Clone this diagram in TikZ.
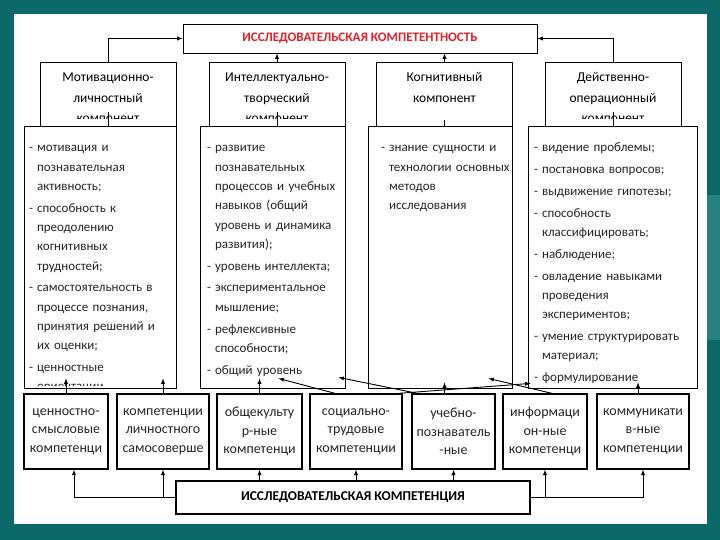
\documentclass[tikz,border=0pt]{standalone}
\usepackage{fontspec}
\setmainfont{Carlito}
\usetikzlibrary{arrows, calc}

\definecolor{slidebg}{RGB}{11,104,104}
\definecolor{slidelight}{RGB}{38,128,128}
\definecolor{titlered}{RGB}{226,32,40}

% one list entry: dash, then hanging lines
\newcommand{\li}[1]{\par{\let\\\newline\hangindent=8pt\hangafter=1\noindent\makebox[8pt][l]{-\strut}#1\par}\vspace{2.5pt}}

\begin{document}
\begin{tikzpicture}[x=1pt, y=-1pt, >=latex, line width=0.9pt,
        every node/.style={inner sep=0pt},
        topbox/.style={draw, thick, fill=white, minimum width=354pt, minimum height=29pt,
            font=\fontsize{13}{15}\selectfont\bfseries},
        compbox/.style={draw, thick, fill=white, minimum width=136pt, minimum height=68pt},
        comptext/.style={anchor=north, align=center, text width=134pt,
            font=\fontsize{13.5}{20.5}\selectfont},
        listbox/.style={draw, thick, fill=white, minimum height=262pt},
        listtext/.style={anchor=north west, align=left, text=black!85,
            font=\fontsize{13}{19.3}\selectfont},
        kbox/.style={draw, line width=1.3pt, fill=white, minimum height=75pt, align=center,
            text=black!85, font=\fontsize{14}{18.7}\selectfont},
        basebox/.style={draw, line width=1.3pt, fill=white, minimum width=354pt, minimum height=33pt,
            font=\fontsize{13.5}{15}\selectfont\bfseries}
    ]

    % slide
    \fill[slidebg] (0,0) rectangle (720,540);
    \fill[slidelight] (707,195) rectangle (720,340);
    \fill[white] (14,14) rectangle (707,524);

    \node[topbox] (top) at (360,38.5) {\textcolor{titlered}{ИССЛЕДОВАТЕЛЬСКАЯ КОМПЕТЕНТНОСТЬ}};

    % components
    \node[compbox] (k1) at (108,96) {};
    \node[compbox] (k2) at (277,96) {};
    \node[compbox] (k3) at (444.5,96) {};
    \node[compbox] (k4) at (613,96) {};
    \begin{scope}
        \clip (k1.north west) rectangle ($(k4.south east)+(0,-12)$);
        \node[comptext] at ($(k1.north)+(0,5.5)$) {\strut Мотивационно-\\личностный\\компонент};
        \node[comptext] at ($(k2.north)+(0,5.5)$) {\strut Интеллектуально-\\творческий\\компонент};
        \node[comptext] at ($(k3.north)+(0,5.5)$) {\strut Когнитивный\\компонент};
        \node[comptext] at ($(k4.north)+(0,5.5)$) {\strut Действенно-\\операционный\\компонент};
    \end{scope}

    \draw[->] (k1.north) |- (top.west);
    \draw[->] (k4.north) |- (top.east);
    \draw[->] (k2.north) -- (k2.north |- top.south);
    \draw[->] (k3.north) -- (k3.north |- top.south);

    % lists
    \node[listbox, minimum width=152pt] (l1) at (100,257) {};
    \node[listbox, minimum width=145pt] (l2) at (272.5,257) {};
    \node[listbox, minimum width=144pt] (l3) at (440,257) {};
    \node[listbox, minimum width=169pt] (l4) at (612.5,257) {};

    \draw ($(k1.south)+(0,-18)$) -- (k1.south |- l1.north);
    \draw ($(k2.south)+(0,-18)$) -- (k2.south |- l2.north);
    \draw ($(k3.south)+(0,-10)$) -- (k3.south |- l3.north);
    \draw ($(k4.south)+(0,-18)$) -- (k4.south |- l4.north);

    \begin{scope}
        \clip (l1.north west) rectangle ($(l1.south east)+(0,-3)$);
        \node[listtext, text width=150pt] at ($(l1.north west)+(5,6.5)$) {%
            \li{мотивация и\\познавательная\\активность;}
            \li{способность к\\преодолению\\когнитивных\\трудностей;}
            \li{самостоятельность в\\процессе познания,\\принятия решений и\\их оценки;}
            \li{ценностные\\ориентации}};
    \end{scope}
    \begin{scope}
        \clip (l2.north west) rectangle ($(l2.south east)+(0,-3)$);
        \node[listtext, text width=140pt] at ($(l2.north west)+(7,6.5)$) {%
            \li{развитие\\познавательных\\процессов и учебных\\навыков (общий\\уровень и динамика\\развития);}
            \li{уровень интеллекта;}
            \li{экспериментальное\\мышление;}
            \li{рефлексивные\\способности;}
            \li{общий уровень\\креативности}};
    \end{scope}
    \begin{scope}
        \clip (l3.north west) rectangle ($(l3.south east)+(0,-3)$);
        \node[listtext, text width=130pt] at ($(l3.north west)+(13,6.5)$) {%
            \li{знание сущности и\\технологии основных\\методов\\исследования}};
    \end{scope}
    \begin{scope}
        \clip (l4.north west) rectangle ($(l4.south east)+(0,-3)$);
        \node[listtext, text width=165pt] at ($(l4.north west)+(6,6.5)$) {%
            \li{видение проблемы;}
            \li{постановка вопросов;}
            \li{выдвижение гипотезы;}
            \li{способность\\классифицировать;}
            \li{наблюдение;}
            \li{овладение навыками\\проведения\\экспериментов;}
            \li{умение структурировать\\материал;}
            \li{формулирование}};
    \end{scope}

    % competences
    \node[kbox, minimum width=84pt] (c1) at (66,431.5) {ценностно-\\смысловые\\компетенци};
    \node[kbox, minimum width=92pt] (c2) at (163,431.5) {компетенции\\личностного\\самосоверше};
    \node[kbox, minimum width=85pt] (c3) at (259.5,431.5) {общекульту\\р-ные\\компетенци};
    \node[kbox, minimum width=92pt] (c4) at (356,431.5) {социально-\\трудовые\\компетенции};
    \node[kbox, minimum width=83pt] (c5) at (453.5,431.5) {учебно-\\познаватель\\-ные};
    \node[kbox, minimum width=84pt] (c6) at (545,431.5) {информаци\\он-ные\\компетенци};
    \node[kbox, minimum width=92pt] (c7) at (643,431.5) {коммуникати\\в-ные\\компетенции};

    \node[basebox] (b) at (353,497.5) {ИССЛЕДОВАТЕЛЬСКАЯ КОМПЕТЕНЦИЯ};

    \draw[->] (b.west) -| ($(c1.south)+(8,0)$);
    \draw[->] (b.west -| c2.south) -- (c2.south);
    \draw[->] (b.north -| c3.south) -- (c3.south);
    \draw[->] (b.north -| c4.south) -- (c4.south);
    \draw[->] (b.north -| c5.south) -- (c5.south);
    \draw[->] (b.east -| c6.south) -- (c6.south);
    \draw[->] (b.east) -| (c7.south);

    \draw[->] (c1.north) -- ($(c1.north |- l1.south)+(0,-10)$);
    \draw[->] (c2.north) -- ($(c2.north |- l1.south)+(0,-10)$);
    \draw[->] (c3.north) -- ($(c3.north |- l2.south)+(0,-10)$);
    \draw[->] ($(c4.north)+(-21,0)$) -- ($(l2.south east)+(-67,-10)$);
    \draw[->] ($(c5.north west)+(6,0)$) -- ($(l2.south east)+(-7,-11)$);
    \draw[->] ($(c5.north)+(-9,0)$) -- ($(c5.north |- l3.south)+(-9,-6)$);
    \draw[->] ($(c4.north east)+(-4,0)$) -- ($(l4.south west)+(3,-5)$);
    \draw[->] ($(c6.north)+(7,0)$) -- ($(l3.south east)+(-24,-10)$);
    \draw[->] ($(c7.north)+(-5,0)$) -- ($(c7.north |- l4.south)+(-5,-6)$);

\end{tikzpicture}
\end{document}
